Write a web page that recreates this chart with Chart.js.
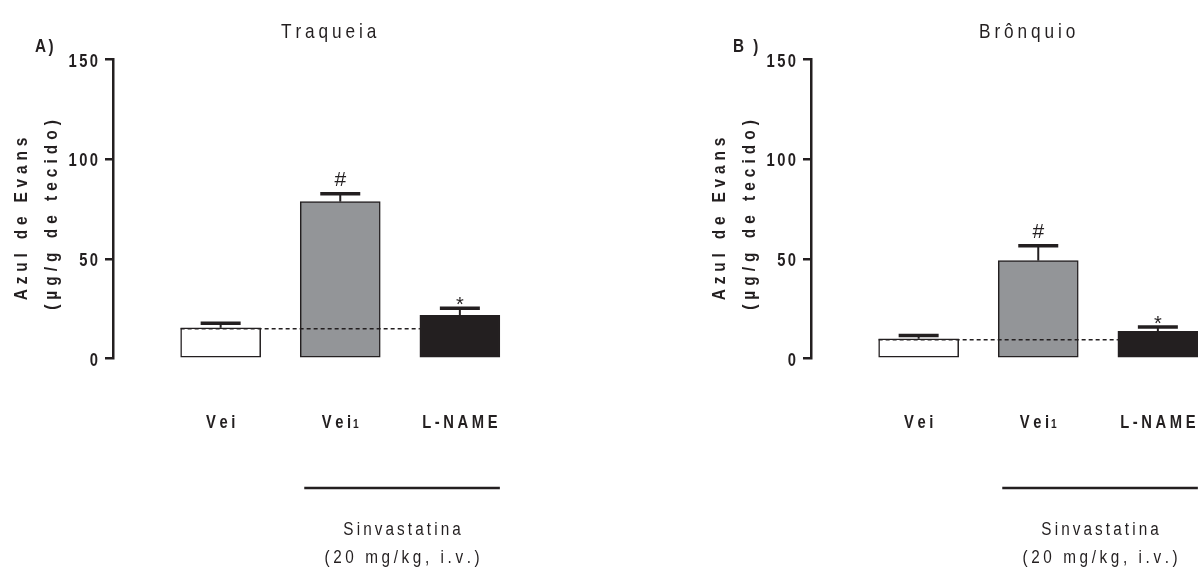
<!DOCTYPE html>
<html>
<head>
<meta charset="utf-8">
<script src="https://cdn.jsdelivr.net/npm/chart.js@4.4.1/dist/chart.umd.min.js"></script>
<style>
  html, body { margin: 0; padding: 0; background: #ffffff; overflow: hidden; }
  body { width: 1198px; height: 569px; position: relative; }
  .panel { position: absolute; top: 0; width: 560px; height: 569px; }
</style>
</head>
<body>
<div class="panel" style="left:0px"><canvas id="traqueia"></canvas></div>
<div class="panel" style="left:698px"><canvas id="bronquio"></canvas></div>
<script>
// Evans blue extravasation (µg/g tissue), mean and SEM per group
const categories = ['Vei', 'Vei1', 'L-NAME'];
const traqueiaMean = [15.4, 78.7, 21.7];
const traqueiaSem = [2.3, 4.0, 3.5];
const bronquioMean = [9.9, 49.1, 13.6];
const bronquioSem = [1.7, 7.5, 2.2];
const significance = ['', '#', '*'];
const yTicks = [0, 50, 100, 150];
const treatmentLabel = ['Sinvastatina', '(20 mg/kg, i.v.)'];
const yTitle = ['Azul de Evans', '(µg/g de tecido)'];

const INK = '#231f20';
const barFill = ['#ffffff', '#939598', '#231f20'];
const FONT = '"Liberation Sans", Arial, sans-serif';

// Draws letter-spaced, slightly condensed text one glyph at a time.
function spacedText(ctx, text, x, y, o) {
  ctx.save();
  ctx.font = o.font;
  const sx = o.sx || 1, sp = o.spacing || 0;
  const chars = [...text];
  const widths = chars.map(ch => ctx.measureText(ch).width * sx);
  const total = widths.reduce((a, b) => a + b, 0) + sp * (chars.length - 1);
  let cx = o.align === 'center' ? -total / 2 : o.align === 'right' ? -total : 0;
  ctx.translate(x, y);
  if (o.rotate) ctx.rotate(o.rotate);
  ctx.fillStyle = o.color || INK;
  ctx.textBaseline = 'alphabetic';
  ctx.textAlign = 'left';
  chars.forEach((ch, i) => {
    ctx.save();
    ctx.translate(cx, 0);
    ctx.scale(sx, 1);
    ctx.fillText(ch, 0, 0);
    ctx.restore();
    cx += widths[i] + sp;
  });
  ctx.restore();
  return total;
}

function measureSpaced(ctx, text, font, sx, sp) {
  ctx.save();
  ctx.font = font;
  const chars = [...text];
  const w = chars.reduce((a, ch) => a + ctx.measureText(ch).width * sx, 0) + sp * (chars.length - 1);
  ctx.restore();
  return w;
}

const panelPlugin = {
  id: 'panelDecor',
  afterDatasetsDraw(chart, args, opts) {
    const ctx = chart.ctx;
    const xs = chart.scales.x, ys = chart.scales.y;
    const meta = chart.getDatasetMeta(0);
    const mean = opts.mean, sem = opts.sem;
    const half = meta.data[0].width / 2;

    // dashed reference line at the vehicle level
    const yRef = ys.getPixelForValue(mean[0]);
    ctx.save();
    ctx.strokeStyle = INK;
    ctx.lineWidth = 1.4;
    ctx.setLineDash([4, 3]);
    ctx.beginPath();
    ctx.moveTo(xs.getPixelForValue(1) - half, yRef + 1);
    ctx.lineTo(xs.getPixelForValue(3) - half, yRef + 1);
    ctx.stroke();
    ctx.restore();

    // upper error bars (SEM)
    mean.forEach((m, i) => {
      const cx = xs.getPixelForValue(i + 1);
      const yTop = ys.getPixelForValue(m);
      const yCap = ys.getPixelForValue(m + sem[i]);
      ctx.save();
      ctx.strokeStyle = INK;
      ctx.lineWidth = 2;
      ctx.beginPath();
      ctx.moveTo(cx, yTop);
      ctx.lineTo(cx, yCap);
      ctx.stroke();
      ctx.lineWidth = 3.5;
      ctx.beginPath();
      ctx.moveTo(cx - half / 2, yCap);
      ctx.lineTo(cx + half / 2, yCap);
      ctx.stroke();
      ctx.restore();
      const mark = significance[i];
      if (mark === '#') {
        spacedText(ctx, mark, cx, yCap - 8, { font: '21px ' + FONT, align: 'center' });
      } else if (mark === '*') {
        spacedText(ctx, mark, cx, yCap + 3, { font: '20px ' + FONT, align: 'center' });
      }
    });
  },
  afterDraw(chart, args, opts) {
    const ctx = chart.ctx;
    const xs = chart.scales.x, ys = chart.scales.y;
    const half = chart.getDatasetMeta(0).data[0].width / 2;

    // y tick labels
    yTicks.forEach(v => {
      spacedText(ctx, String(v), 98, ys.getPixelForValue(v) + 7,
        { font: 'bold 18px ' + FONT, align: 'right', sx: 0.82, spacing: 2.4 });
    });

    // panel letter and title
    spacedText(ctx, opts.letter, 35, 52, { font: 'bold 18px ' + FONT, sx: 0.85, spacing: 2.5 });
    spacedText(ctx, opts.title, 281, 37.5, { font: '21px ' + FONT, sx: 0.82, spacing: 3.9 });

    // rotated y-axis title, two lines
    const rot = -Math.PI / 2;
    spacedText(ctx, yTitle[0], 27, 219, { font: 'bold 18px ' + FONT, align: 'center', sx: 0.86, spacing: 4.8, rotate: rot });
    spacedText(ctx, yTitle[1], 57, 215, { font: 'bold 18px ' + FONT, align: 'center', sx: 0.86, spacing: 5, rotate: rot });

    // category labels, trailing digits drawn small
    categories.forEach((c, i) => {
      const cx = xs.getPixelForValue(i + 1);
      const m = c.match(/^(.*?)(\d*)$/);
      const mainFont = 'bold 18px ' + FONT, subFont = 'bold 12px ' + FONT;
      const w1 = measureSpaced(ctx, m[1], mainFont, 0.82, 3.6);
      const w2 = m[2] ? measureSpaced(ctx, m[2], subFont, 0.85, 0) + 2 : 0;
      const x0 = cx - (w1 + w2) / 2;
      spacedText(ctx, m[1], x0, 428, { font: mainFont, sx: 0.82, spacing: 3.6 });
      if (m[2]) spacedText(ctx, m[2], x0 + w1 + 2, 428, { font: subFont, sx: 0.85 });
    });

    // treatment bracket under the two simvastatin groups
    const bx1 = xs.getPixelForValue(2) - half + 4;
    const bx2 = xs.getPixelForValue(3) + half;
    ctx.save();
    ctx.strokeStyle = INK;
    ctx.lineWidth = 2.5;
    ctx.beginPath();
    ctx.moveTo(bx1, 488);
    ctx.lineTo(bx2, 488);
    ctx.stroke();
    ctx.restore();
    const mid = (bx1 + bx2) / 2;
    spacedText(ctx, treatmentLabel[0], mid, 535, { font: '18px ' + FONT, align: 'center', sx: 0.85, spacing: 3.1 });
    spacedText(ctx, treatmentLabel[1], mid, 563, { font: '18px ' + FONT, align: 'center', sx: 0.85, spacing: 3.6 });
  }
};

function makePanel(id, title, letter, mean, sem) {
  return new Chart(document.getElementById(id), {
    type: 'bar',
    data: {
      datasets: [{
        data: mean.map((v, i) => ({ x: i + 1, y: v })),
        backgroundColor: barFill,
        borderColor: INK,
        borderWidth: 1.5,
        borderSkipped: false,
        barThickness: 80
      }]
    },
    options: {
      responsive: true,
      maintainAspectRatio: false,
      animation: false,
      events: [],
      layout: { padding: { top: 59.5, bottom: 210.5, left: 0, right: 20 } },
      plugins: {
        legend: { display: false },
        tooltip: { enabled: false },
        panelDecor: { title, letter, mean, sem }
      },
      scales: {
        x: { type: 'linear', min: 0.1, max: 3.67, offset: false, display: false },
        y: {
          min: 0, max: 150,
          ticks: { stepSize: 50, display: false },
          grid: { drawOnChartArea: false, drawTicks: true, tickLength: 8, lineWidth: 2.5, color: INK },
          border: { display: true, width: 2.5, color: INK },
          afterFit(scale) { scale.width = 113; }
        }
      }
    },
    plugins: [panelPlugin]
  });
}

makePanel('traqueia', 'Traqueia', 'A)', traqueiaMean, traqueiaSem);
makePanel('bronquio', 'Brônquio', 'B )', bronquioMean, bronquioSem);
</script>
</body>
</html>
